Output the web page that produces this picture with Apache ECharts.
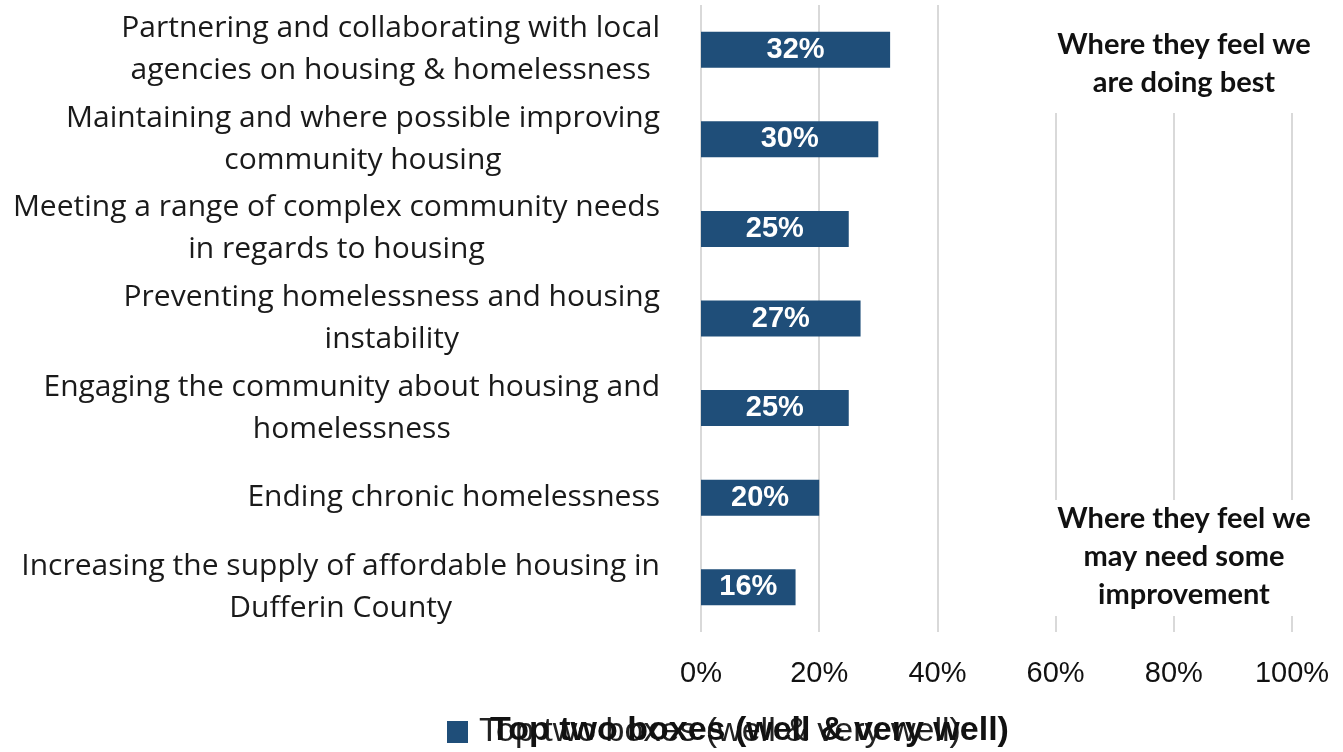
<!DOCTYPE html>
<html>
<head>
<meta charset="utf-8">
<style>html,body{margin:0;padding:0;background:#fff;}#chart{width:1343px;height:752px;}</style>
<script src="https://cdn.jsdelivr.net/npm/echarts@6/dist/echarts.min.js"></script>
</head>
<body>
<div id="chart"></div>
<script>
const categories = [
  'Partnering and collaborating with local\nagencies on housing & homelessness',
  'Maintaining and where possible improving\ncommunity housing',
  'Meeting a range of complex community needs\nin regards to housing',
  'Preventing homelessness and housing\ninstability',
  'Engaging the community about housing and\nhomelessness',
  'Ending chronic homelessness',
  'Increasing the supply of affordable housing in\nDufferin County'
];
const values = [32, 30, 25, 27, 25, 20, 16];
const seriesName = 'Top two boxes (well & very well)';
const xTicks = [0, 20, 40, 60, 80, 100];
const noteTop = 'Where they feel we\nare doing best';
const noteBottom = 'Where they feel we\nmay need some\nimprovement';

const chart = echarts.init(document.getElementById('chart'));
chart.setOption({
  animation: false,
  grid: { left: 701, right: 51, top: 5, bottom: 120, containLabel: false },
  xAxis: {
    type: 'value', min: 0, max: 100, interval: 20,
    axisLine: { show: false }, axisTick: { show: false },
    splitLine: { lineStyle: { color: '#d9d9d9', width: 2 } },
    axisLabel: {
      margin: 27, color: '#111', fontFamily: 'Liberation Sans', fontSize: 29,
      formatter: v => xTicks.includes(v) ? v + '%' : ''
    }
  },
  yAxis: {
    type: 'category', data: categories, inverse: true,
    axisLine: { show: false }, axisTick: { show: false },
    axisLabel: {
      margin: 41, color: '#1a1a1a', fontFamily: 'Open Sans', fontSize: 30,
      lineHeight: 42, align: 'right',
      formatter: v => v.split('\n').map(l => '{c|' + l + '}').join('\n'),
      rich: { c: { align: 'center', fontFamily: 'Open Sans', fontSize: 30, lineHeight: 42, color: '#1a1a1a' } }
    }
  },
  legend: {
    data: [seriesName], left: 442, top: 710,
    itemWidth: 21, itemHeight: 22, itemGap: 10,
    icon: 'rect',
    textStyle: { fontFamily: 'Liberation Sans', fontSize: 34, color: '#222', padding: [0, 0, 0, 6] }
  },
  series: [{
    name: seriesName, type: 'bar', data: values, barWidth: 36,
    itemStyle: { color: '#1f4e79' },
    label: {
      show: true, position: 'inside', formatter: '{c}%', color: '#fff',
      fontFamily: 'Liberation Sans', fontWeight: 'bold', fontSize: 29
    }
  }],
  graphic: [
    { type: 'rect', left: 1040, top: 0, shape: { width: 285, height: 113 }, style: { fill: '#fff' }, z: 10 },
    { type: 'text', x: 1184, y: 26, z: 11,
      style: { text: noteTop, fill: '#111', font: 'bold 29px Lato', align: 'center', textAlign: 'center', lineHeight: 38 } },
    { type: 'rect', left: 1040, top: 500, shape: { width: 285, height: 116 }, style: { fill: '#fff' }, z: 10 },
    { type: 'text', x: 1184, y: 500, z: 11,
      style: { text: noteBottom, fill: '#111', font: 'bold 29px Lato', align: 'center', textAlign: 'center', lineHeight: 38 } },
    { type: 'text', left: 490, top: 714, z: 11,
      style: { text: seriesName, fill: '#111', font: 'bold 34px Liberation Sans' } }
  ]
});
</script>
</body>
</html>
